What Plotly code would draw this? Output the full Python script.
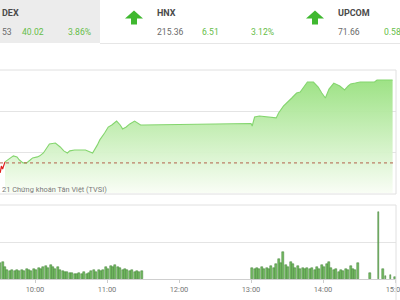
import plotly.graph_objects as go
import pandas as pd

DAY = "2021-02-01"

# ---- price (VN-Index intraday) ----
price_times = ["09:31", "09:32", "09:33", "09:35", "09:37", "09:42", "09:45", "09:47", "09:50", "09:53",
               "09:56", "09:58", "10:02", "10:04", "10:07", "10:10", "10:12", "10:17", "10:21", "10:24",
               "10:27", "10:29", "10:33", "10:42", "10:46", "10:48", "10:52", "10:54", "10:58", "11:01",
               "11:04", "11:08", "11:11", "11:13", "11:16", "11:19", "11:23", "11:26", "11:28", "11:30",
               "13:00", "13:01", "13:03", "13:07", "13:14", "13:21", "13:23", "13:27", "13:34", "13:38",
               "13:41", "13:44", "13:47", "13:52", "13:56", "13:59", "14:02", "14:05", "14:09", "14:14",
               "14:18", "14:21", "14:23", "14:27", "14:31", "14:43", "14:45", "14:58"]
price_values = [1030.4, 1033.7, 1032.3, 1035.7, 1036.6, 1038.6, 1038.1, 1036.6, 1035.2, 1035.2,
                1036.6, 1037.6, 1038.1, 1038.6, 1040.0, 1042.4, 1044.3, 1044.8, 1042.9, 1041.0,
                1040.0, 1041.0, 1041.4, 1041.4, 1040.5, 1040.0, 1043.9, 1046.3, 1049.6, 1052.5,
                1053.5, 1055.4, 1053.5, 1051.6, 1052.5, 1054.0, 1055.4, 1054.0, 1053.5, 1053.5,
                1054.2, 1053.0, 1057.3, 1057.8, 1057.3, 1056.9, 1059.3, 1062.6, 1066.5, 1068.9,
                1069.4, 1071.8, 1074.2, 1074.2, 1071.8, 1068.9, 1066.5, 1070.8, 1073.7, 1072.3,
                1070.4, 1072.3, 1073.3, 1073.7, 1074.2, 1074.2, 1075.2, 1075.2]
reference_value = 1035.2
n_red = 4  # first points below reference

# ---- volume ----
vol_am_start = "09:31"
vol_am = [16, 17, 12, 9, 8, 9, 8, 9, 8, 9,
          8, 10, 9, 8, 10, 9, 11, 10, 12, 13,
          11, 14, 12, 10, 12, 9, 8, 7, 7, 6,
          6, 5, 5, 6, 5, 7, 5, 6, 8, 9,
          7, 9, 8, 9, 12, 10, 13, 12, 14, 12,
          11, 9, 10, 9, 8, 9, 7, 8, 7, 8]
vol_pm_start = "13:01"
vol_pm = [11, 10, 11, 10, 12, 10, 11, 10, 13, 11,
          15, 20, 16, 27, 14, 12, 17, 15, 11, 13,
          10, 11, 10, 11, 10, 11, 9, 12, 10, 14,
          12, 15, 17, 11, 9, 10, 7, 9, 8, 10,
          9, 13, 10, 9, 16]
atc_times = ["14:39", "14:46", "14:50", "14:52", "14:56", "15:00"]
atc_vol = [6, 67, 10, 3, 4, 2]

tick_labels = ["10:00", "11:00", "12:00", "13:00", "14:00", "15:00"]

# header texts
hdr = dict(
    idx1_name="DEX", idx1_val="53", idx1_chg="40.02", idx1_pct="3.86%",
    idx2_name="HNX", idx2_val="215.36", idx2_chg="6.51", idx2_pct="3.12%",
    idx3_name="UPCOM", idx3_val="71.66", idx3_chg="0.58",
)

W, H = 400, 300
def X(px): return px / W
def Y(py): return 1 - py / H

def t(s): return pd.Timestamp(f"{DAY} {s}")

ptimes = [t(s) for s in price_times]
am_times = pd.date_range(t(vol_am_start), periods=len(vol_am), freq="2min")
pm_times = pd.date_range(t(vol_pm_start), periods=len(vol_pm), freq="2min")
atimes = [t(s) for s in atc_times]

x_left = t("10:00") - pd.Timedelta(minutes=35 / 72 * 60)
x_right = t("10:00") + pd.Timedelta(minutes=(396 - 35) / 72 * 60)

fig = go.Figure()

GREEN_LINE = "#84d56e"
fig.add_trace(go.Scatter(
    x=ptimes[n_red - 1:], y=price_values[n_red - 1:], mode="lines",
    line=dict(color=GREEN_LINE, width=1.1), fill="tozeroy",
    fillgradient=dict(type="vertical", start=1020.7, stop=1076,
                      colorscale=[[0, "rgba(248,253,244,0.95)"], [1, "rgba(150,224,124,0.95)"]]),
    xaxis="x", yaxis="y", hoverinfo="skip", showlegend=False))
fig.add_trace(go.Scatter(
    x=ptimes[:n_red], y=price_values[:n_red], mode="lines",
    line=dict(color="#e0201c", width=1.2), xaxis="x", yaxis="y", showlegend=False))
fig.add_trace(go.Scatter(
    x=[x_left, x_right], y=[reference_value, reference_value], mode="lines",
    line=dict(color="#b4614a", width=1, dash="dot"), xaxis="x", yaxis="y", showlegend=False))

BAR = "#74bd62"
BAR_EDGE = "#3f7d35"
fig.add_trace(go.Bar(x=list(am_times) + list(pm_times), y=vol_am + vol_pm,
                     width=100000, marker=dict(color=BAR, line=dict(color=BAR_EDGE, width=0.5)),
                     xaxis="x2", yaxis="y2", showlegend=False))
fig.add_trace(go.Bar(x=atimes, y=atc_vol, width=70000,
                     marker=dict(color=BAR, line=dict(color=BAR_EDGE, width=0.5)),
                     xaxis="x2", yaxis="y2", showlegend=False))

dom_x = [0, X(396)]
fig.update_layout(
    width=W, height=H, margin=dict(l=0, r=0, t=0, b=0, autoexpand=False),
    paper_bgcolor="white", plot_bgcolor="rgba(0,0,0,0)",
    font=dict(family="Roboto", color="#666"),
    bargap=0,
    xaxis=dict(domain=dom_x, range=[x_left, x_right], showticklabels=False, showgrid=False,
               zeroline=False, showline=False, anchor="y", automargin=False),
    yaxis=dict(domain=[Y(193), Y(70)], range=[1020.7, 1080], tickvals=[1040, 1060],
               showticklabels=False, gridcolor="#e4e4e4", gridwidth=1, zeroline=False, anchor="x",
               automargin=False),
    xaxis2=dict(domain=dom_x, range=[x_left, x_right], anchor="y2", automargin=False,
                tickvals=[t(s) for s in tick_labels], ticktext=tick_labels,
                ticklabeloverflow="allow",
                tickfont=dict(size=7.5, color="#777"), ticks="outside", ticklen=3, tickcolor="#ccc",
                showgrid=False, zeroline=False, showline=True, linecolor="#cfcfcf"),
    yaxis2=dict(domain=[Y(279), Y(205)], range=[0, 74], tickvals=[37], automargin=False,
                showticklabels=False, gridcolor="#e4e4e4", zeroline=False, anchor="x2"),
)

shapes = []
# header gray box and bottom line
shapes.append(dict(type="rect", xref="paper", yref="paper", x0=X(0), x1=X(100), y0=Y(43), y1=Y(0),
                   fillcolor="#ececec", line=dict(width=0), layer="below"))
shapes.append(dict(type="line", xref="paper", yref="paper", x0=X(100), x1=X(400), y0=Y(43.5), y1=Y(43.5),
                   line=dict(color="#e6e6e6", width=1)))
# panel borders
shapes.append(dict(type="rect", xref="paper", yref="paper", x0=X(-10), x1=X(396), y0=Y(194), y1=Y(70),
                   line=dict(color="#e0e0e0", width=1), fillcolor="rgba(0,0,0,0)"))
shapes.append(dict(type="rect", xref="paper", yref="paper", x0=X(-10), x1=X(396), y0=Y(310), y1=Y(205),
                   line=dict(color="#e0e0e0", width=1), fillcolor="rgba(0,0,0,0)"))

# up arrows
def arrow(x0):
    pts = [(x0, 18.5), (x0 + 9, 10.5), (x0 + 18, 18.5), (x0 + 12, 18.5), (x0 + 12, 24.5),
           (x0 + 6, 24.5), (x0 + 6, 18.5)]
    path = "M " + " L ".join(f"{X(a):.4f},{Y(b):.4f}" for a, b in pts) + " Z"
    return dict(type="path", xref="paper", yref="paper", path=path,
                fillcolor="#3fb82f", line=dict(width=0))
shapes.append(arrow(125))
shapes.append(arrow(306))
fig.update_layout(shapes=shapes)

GREEN_TXT = "#66bd48"
DARK = "#4a4a4a"
GRAY = "#6a6a6a"
ann = []
def txt(s, x, y, color, size=8.6, bold=False):
    ann.append(dict(text=f"<b>{s}</b>" if bold else s, x=X(x), y=Y(y), xref="paper", yref="paper",
                    xanchor="left", yanchor="middle", showarrow=False,
                    font=dict(size=size, color=color, family="Roboto")))
txt(hdr["idx1_name"], -0.5, 13, DARK, 9, True)
txt(hdr["idx1_val"], -0.5, 32, GRAY)
txt(hdr["idx1_chg"], 19.5, 32, GREEN_TXT)
txt(hdr["idx1_pct"], 65.5, 32, GREEN_TXT)
txt(hdr["idx2_name"], 154.5, 13, DARK, 9, True)
txt(hdr["idx2_val"], 154.5, 32, GRAY)
txt(hdr["idx2_chg"], 199.5, 32, GREEN_TXT)
txt(hdr["idx2_pct"], 248.5, 32, GREEN_TXT)
txt(hdr["idx3_name"], 335.5, 13, DARK, 9, True)
txt(hdr["idx3_val"], 335.5, 32, GRAY)
txt(hdr["idx3_chg"], 382, 32, GREEN_TXT)
txt("21 Chứng khoán Tân Việt (TVSI)", -0.5, 189, "#7a7a7a", 7.4)
fig.update_layout(annotations=ann)

fig.write_html("out.html")
